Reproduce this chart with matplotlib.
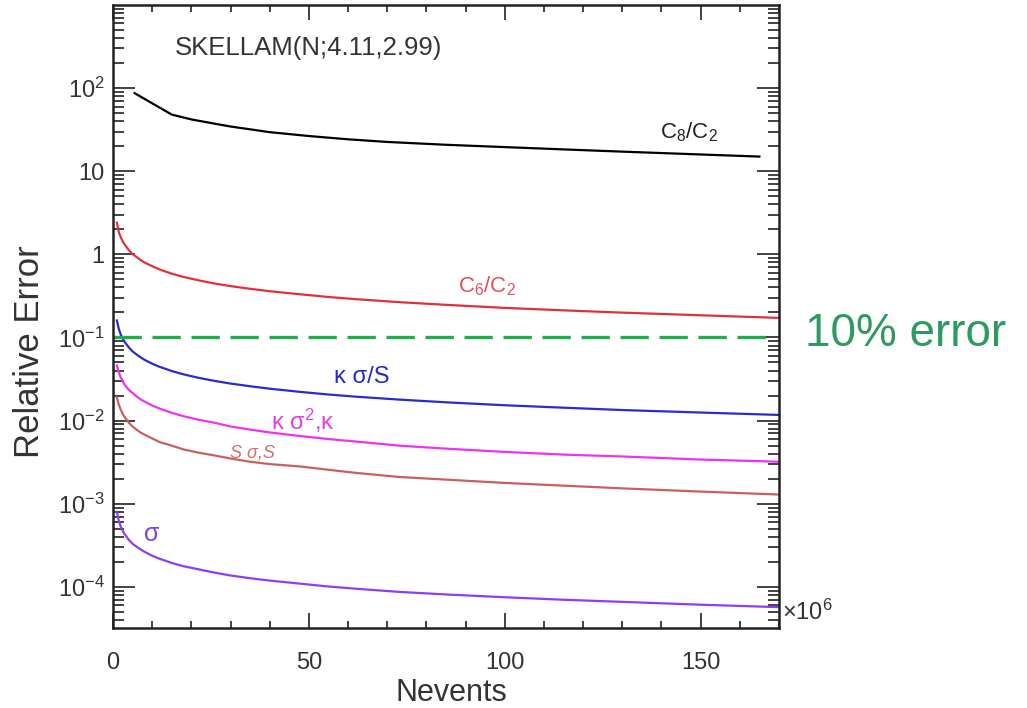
import matplotlib
matplotlib.use("Agg")
import matplotlib.pyplot as plt
from matplotlib.ticker import LogLocator, MultipleLocator, FixedLocator, NullFormatter

plt.rcParams['font.family'] = ['Liberation Sans', 'DejaVu Sans']
plt.rcParams['mathtext.fontset'] = 'custom'
plt.rcParams['mathtext.rm'] = 'Liberation Sans'
plt.rcParams['mathtext.it'] = 'Liberation Sans:italic'
plt.rcParams['mathtext.bf'] = 'Liberation Sans:bold'

# Nevents (x10^6) and relative errors
nevents = [1, 1.5, 2, 2.5, 3, 4, 5, 6, 7, 8, 10, 12, 15, 18, 22, 26, 30, 35, 40, 48,
           55, 62, 73, 85, 100, 115, 130, 150, 170]
err_c6c2 = [2.4, 1.85, 1.6, 1.43, 1.31, 1.13, 1.01, 0.93, 0.86, 0.80, 0.72, 0.655, 0.585,
            0.535, 0.485, 0.445, 0.415, 0.385, 0.36, 0.33, 0.307, 0.289, 0.266, 0.247,
            0.227, 0.212, 0.199, 0.185, 0.172]
err_ksigma_s = [0.16, 0.126, 0.108, 0.097, 0.088, 0.0765, 0.068, 0.0625, 0.058, 0.054,
                0.0484, 0.0442, 0.0395, 0.036, 0.0326, 0.030, 0.0279, 0.0259, 0.0242,
                0.0221, 0.0206, 0.0194, 0.0179, 0.0166, 0.0153, 0.0143, 0.0134, 0.0125, 0.0117]
err_ksigma2 = [0.046, 0.038, 0.033, 0.0295, 0.027, 0.0235, 0.0215, 0.0196, 0.0181, 0.0170,
               0.0152, 0.0139, 0.0124, 0.0113, 0.0102, 0.0094, 0.0085, 0.0078, 0.0072,
               0.0065, 0.0060, 0.0056, 0.0050, 0.0046, 0.0042, 0.0039, 0.0037, 0.0034, 0.0032]
err_ssigma = [0.019, 0.0155, 0.0135, 0.012, 0.011, 0.0095, 0.0085, 0.0078, 0.0072, 0.0068,
              0.0061, 0.0055, 0.0050, 0.0045, 0.0041, 0.0038, 0.0035, 0.0032, 0.0030,
              0.0028, 0.00256, 0.00235, 0.0021, 0.00195, 0.00178, 0.00165, 0.00153,
              0.0014, 0.00129]
err_sigma = [8.0e-4, 6.2e-4, 5.3e-4, 4.7e-4, 4.3e-4, 3.7e-4, 3.3e-4, 3.05e-4, 2.83e-4,
             2.65e-4, 2.37e-4, 2.17e-4, 1.94e-4, 1.77e-4, 1.62e-4, 1.48e-4, 1.37e-4,
             1.27e-4, 1.19e-4, 1.09e-4, 1.01e-4, 9.5e-5, 8.7e-5, 8.1e-5, 7.5e-5, 7.0e-5,
             6.6e-5, 6.1e-5, 5.7e-5]

# C8/C2 is computed on a coarser grid
nevents_c8 = [5.5, 15, 20, 25, 30, 40, 50, 60, 70, 85, 100, 115, 130, 150, 165]
err_c8c2 = [87, 48, 42, 38, 34.5, 29.5, 26.5, 24.2, 22.5, 20.8, 19.5, 18.3, 17.2, 15.9, 15]

error_threshold = 0.1

fig = plt.figure(figsize=(10.27, 7.08), dpi=100)
ax = fig.add_axes([0.110, 0.113, 0.6485, 0.880])

ax.plot(nevents_c8, err_c8c2, color='black', lw=1.6)
ax.plot(nevents, err_c6c2, color='#e0303e', lw=1.6)
ax.plot(nevents, err_ksigma_s, color='#2a2ad0', lw=1.6)
ax.plot(nevents, err_ksigma2, color='#ee33ee', lw=1.6)
ax.plot(nevents, err_ssigma, color='#c86060', lw=1.6)
ax.plot(nevents, err_sigma, color='#8a3ff0', lw=1.6)

ax.axhline(error_threshold, xmin=0.0, xmax=0.98, color='#1db04a', lw=2.4, dashes=(8.5, 3.2))

ax.set_yscale('log')
ax.set_xlim(0, 170)
ax.set_ylim(3.2e-5, 1000)

# curve labels
ax.text(147, 29.5, r'$\mathregular{C_8/C_2}$', color='#222222', fontsize=16, ha='center', va='center')
ax.text(95.5, 0.41, r'$\mathregular{C_6/C_2}$', color='#e0505a', fontsize=16, ha='center', va='center')
ax.text(63.5, 0.033, 'κ σ/S', color='#2828c8', fontsize=17, ha='center', va='center')
ax.text(48.5, 0.0098, r'κ σ$\mathregular{^2}$,κ', color='#e040e0', fontsize=17, ha='center', va='center')
ax.text(35.5, 0.0041, 'S σ,S', color='#d07070', fontsize=13, style='italic', ha='center', va='center')
ax.text(10, 4.3e-4, 'σ', color='#8040e0', fontsize=18, ha='center', va='center')
ax.text(0.294, 0.931, 'SKELLAM(N;4.11,2.99)', transform=ax.transAxes, color='#333333',
        fontsize=18.5, ha='center', va='center')

# axis ticks in ROOT style
ax.xaxis.set_major_locator(MultipleLocator(50))
ax.xaxis.set_minor_locator(MultipleLocator(10))
ax.yaxis.set_major_locator(FixedLocator([1e-4, 1e-3, 1e-2, 1e-1, 1, 10, 100]))
ax.yaxis.set_minor_locator(LogLocator(base=10, subs=range(2, 10), numticks=20))
ax.yaxis.set_minor_formatter(NullFormatter())
ax.set_yticklabels([r'$\mathregular{10^{-4}}$', r'$\mathregular{10^{-3}}$', r'$\mathregular{10^{-2}}$',
                    r'$\mathregular{10^{-1}}$', '1', '10', r'$\mathregular{10^{2}}$'])

ax.tick_params(axis='both', which='both', direction='in', top=True, right=True,
               width=1.2, colors='#222222', labelcolor='#333333', labelsize=17)
ax.tick_params(axis='y', which='major', length=16, pad=6)
ax.tick_params(axis='y', which='minor', length=8)
ax.tick_params(axis='x', which='major', length=11, pad=17)
ax.tick_params(axis='x', which='minor', length=5)
for spine in ax.spines.values():
    spine.set_linewidth(1.8)
    spine.set_color('#222222')

ax.set_xlabel('Nevents', fontsize=22, color='#333333')
ax.xaxis.set_label_coords(0.508, -0.080)
ax.set_ylabel('Relative Error', fontsize=25, color='#333333')
ax.yaxis.set_label_coords(-0.100, 0.443)

fig.text(0.761, 1 - 612 / 708, r'$\mathregular{\times10^{6}}$', fontsize=17, color='#333333',
         ha='left', va='center')
fig.text(0.784, 1 - 334 / 708, '10% error', fontsize=33, color='#2e9a62', ha='left', va='center')

fig.savefig('out.png', dpi=100)
